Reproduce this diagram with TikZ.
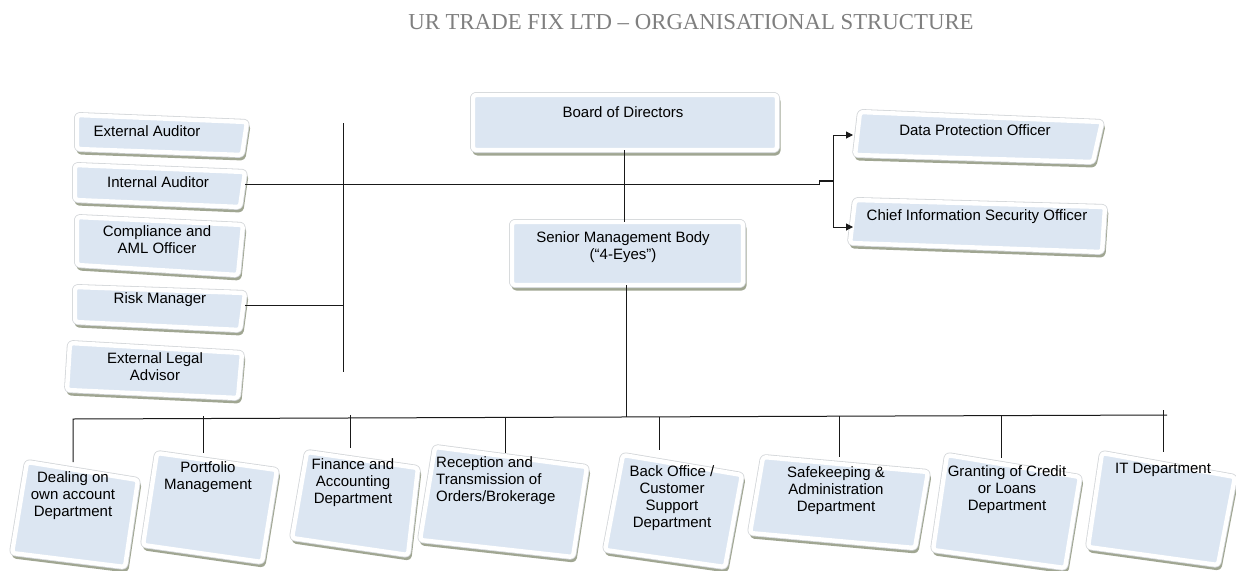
\documentclass[tikz,border=0pt]{standalone}
\usepackage{fontspec}
\setmainfont{Liberation Sans}
\newfontfamily\titlefont{Liberation Serif}
\usetikzlibrary{arrows.meta,calc}
\definecolor{boxfill}{HTML}{DCE6F2}
\definecolor{shadowc}{HTML}{A0A692}
\definecolor{edgec}{HTML}{D3D6D9}
\definecolor{titlec}{HTML}{7F7F7F}
\tikzset{
  lbl/.style={font=\fontsize{15}{17}\selectfont, align=center, inner sep=0pt, text=black},
  conn/.style={line width=1pt, draw=black!90},
  arr/.style={conn, -{Triangle[length=7pt,width=7pt]}},
}
\newcommand\skbox[4]{%
  \filldraw[shadowc, line width=4pt, line join=round, rounded corners=3pt]
    ($(#1)+(1.5,3.5)$) -- ($(#2)+(1.5,3.5)$) -- ($(#3)+(1.5,3.5)$) -- ($(#4)+(1.5,3.5)$) -- cycle;
  \draw[edgec, line width=6pt, line join=round, rounded corners=3pt]
    (#1) -- (#2) -- (#3) -- (#4) -- cycle;
  \draw[white, line width=4.4pt, fill=boxfill, line join=round, rounded corners=3pt]
    (#1) -- (#2) -- (#3) -- (#4) -- cycle;
}
\begin{document}
\begin{tikzpicture}[x=1pt,y=-1pt]
\useasboundingbox[fill=white] (0,0) rectangle (1236,570);

% title
\node[font=\titlefont\fontsize{22.8}{27}\selectfont, text=titlec, inner sep=0pt, anchor=base] (title) at (691,29) {UR TRADE FIX LTD – ORGANISATIONAL STRUCTURE};

% ---------- boxes ----------
\skbox{77,115}{247,122}{242,155}{77,149}
\skbox{75,165}{245,172}{240,207}{75,200}
\skbox{77,217}{243,225}{238,275}{77,265}
\skbox{75,287}{245,293}{240,330}{75,322}
\skbox{70,343}{242,353}{238,398}{67,390}

\skbox{473,95}{777,95}{777,150}{473,150}
\skbox{512,222}{743,222}{743,285}{512,285}
\skbox{860,112}{1102,122}{1093,162}{855,155}
\skbox{855,200}{1105,207}{1102,252}{850,243}

\skbox{27,462}{138,480}{125,567}{12,553}
\skbox{157,453}{277,470}{262,562}{143,545}
\skbox{307,452}{418,468}{408,555}{292,538}
\skbox{435,447}{587,467}{573,557}{420,540}
\skbox{623,455}{742,475}{725,567}{605,550}
\skbox{763,457}{928,472}{915,548}{750,533}
\skbox{947,455}{1080,477}{1065,568}{933,550}
\skbox{1102,453}{1235,477}{1218,565}{1088,547}

% ---------- labels ----------
\node[lbl] (ea) at (147,131) {External Auditor};
\node[lbl] (ia) at (158,182) {Internal Auditor};
\node[lbl] (ca) at (157,240) {Compliance and\\AML Officer};
\node[lbl] (rm) at (160,300) {Risk Manager};
\node[lbl] (el) at (155,367) {External Legal\\Advisor};

\node[lbl] (bod) at (623,112) {Board of Directors};
\node[lbl] (smb) at (623,247) {Senior Management Body\\(“4-Eyes”)};
\node[lbl] (dpo) at (975,130) {Data Protection Officer};
\node[lbl] (ciso) at (977,217) {Chief Information Security Officer};

\node[lbl] (deal) at (73,496) {Dealing on\\own account\\Department};
\node[lbl] (port) at (208,477) {Portfolio\\Management};
\node[lbl] (fin) at (353,483) {Finance and\\Accounting\\Department};
\node[lbl, align=left, anchor=west] (rec) at (436,481) {Reception and\\Transmission of\\Orders/Brokerage};
\node[lbl] (bo) at (672,498) {Back Office /\\Customer\\Support\\Department};
\node[lbl] (safe) at (836,491) {Safekeeping \&\\Administration\\Department};
\node[lbl] (gc) at (1007,490) {Granting of Credit\\or Loans\\Department};
\node[lbl] (itd) at (1163,470) {IT Department};

% ---------- connector end points ----------
\coordinate (iaR) at (245,184);
\coordinate (stepA) at (819,184);
\coordinate (stepB) at (819,181);
\coordinate (brM) at (833,181);
\coordinate (brT) at (833,135);
\coordinate (brB) at (833,227);
\coordinate (dpoL) at (853,135);
\coordinate (cisoL) at (853,227);
\coordinate (vT) at (343,123);
\coordinate (vB) at (343,372);
\coordinate (rmR) at (245,305);
\coordinate (rmV) at (343,305);
\coordinate (bodB) at (624,150);
\coordinate (smbT) at (624,222);
\coordinate (smbB) at (626,285);
\coordinate (busM) at (626,417.2);
\coordinate (busL) at (73,419);
\coordinate (busR) at (1167,415);
\coordinate (dealT) at (73,462);
\coordinate (portB) at (203,416);  \coordinate (portT) at (203,453);
\coordinate (finB) at (350,415);   \coordinate (finT) at (350,448);
\coordinate (recB) at (505,418);   \coordinate (recT) at (505,453);
\coordinate (boB) at (659,417);    \coordinate (boT) at (659,450);
\coordinate (safeB) at (839,416);  \coordinate (safeT) at (839,457);
\coordinate (gcB) at (1001,415);   \coordinate (gcT) at (1001,458);
\coordinate (itB) at (1163,410);   \coordinate (itT) at (1163,452);

% ---------- connectors ----------
\draw[conn] (vT) -- (vB);
\draw[conn] (iaR) -- (stepA) -- (stepB) -- (brM);
\draw[conn, line width=1.8pt] (stepB) -- (brM);
\draw[conn] (brT) -- (brB);
\draw[arr] (brT) -- (dpoL);
\draw[arr] (brB) -- (cisoL);
\draw[conn] (rmR) -- (rmV);
\draw[conn] (bodB) -- (smbT);
\draw[conn] (smbB) -- (busM);
\draw[conn] (dealT) -- (busL) -- (busR);
\draw[conn] (portB) -- (portT);
\draw[conn] (finB) -- (finT);
\draw[conn] (recB) -- (recT);
\draw[conn] (boB) -- (boT);
\draw[conn] (safeB) -- (safeT);
\draw[conn] (gcB) -- (gcT);
\draw[conn] (itB) -- (itT);
\end{tikzpicture}
\end{document}
